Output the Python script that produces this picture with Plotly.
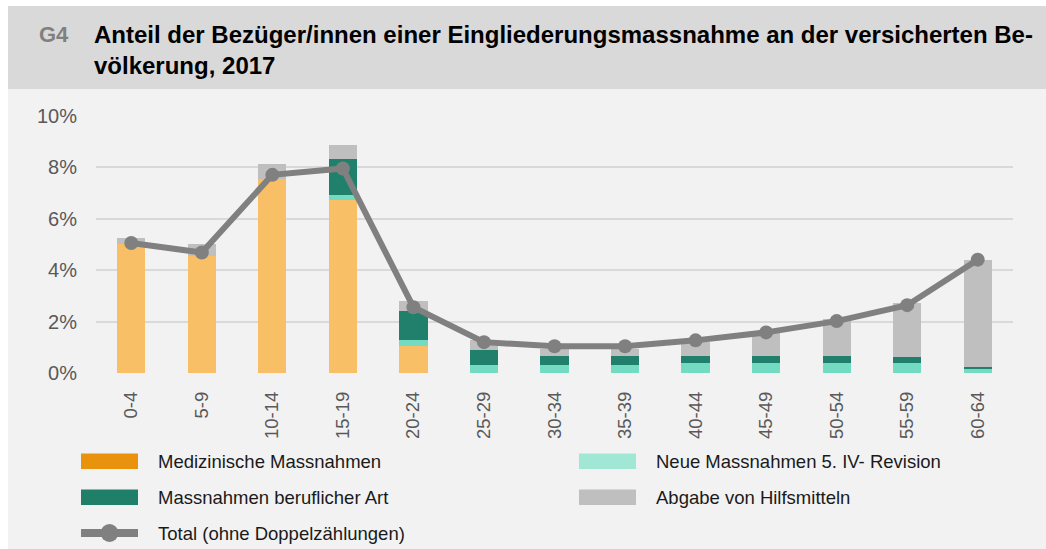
import plotly.graph_objects as go

categories = ["0-4", "5-9", "10-14", "15-19", "20-24", "25-29", "30-34",
              "35-39", "40-44", "45-49", "50-54", "55-59", "60-64"]
# stacked segment values (% of insured population)
medizinisch = [5.01, 4.57, 7.53, 6.75, 1.07, 0, 0, 0, 0, 0, 0, 0, 0]
neue_5iv = [0, 0, 0, 0.16, 0.22, 0.30, 0.30, 0.30, 0.39, 0.39, 0.39, 0.39, 0.18]
beruflich = [0, 0, 0, 1.43, 1.11, 0.60, 0.38, 0.38, 0.28, 0.28, 0.28, 0.22, 0.05]
hilfsmittel = [0.24, 0.44, 0.59, 0.54, 0.39, 0.39, 0.25, 0.25, 0.52, 0.90, 1.43, 2.13, 4.17]
total = [5.06, 4.69, 7.71, 7.96, 2.56, 1.20, 1.04, 1.04, 1.27, 1.58, 2.02, 2.64, 4.41]
ytick_vals = [0, 2, 4, 6, 8, 10]
ytick_text = ["0%", "2%", "4%", "6%", "8%", "10%"]

legend_labels = ["Medizinische Massnahmen", "Neue Massnahmen 5. IV- Revision",
                 "Massnahmen beruflicher Art", "Abgabe von Hilfsmitteln",
                 "Total (ohne Doppelzählungen)"]

# page offset of the figure (body margin) and figure size
OX, OY = 8, 6
W, H = 1046 - OX, 549 - OY
ML, MR, MT, MB = 96 - OX, 1046 - 1013, 116 - OY, 549 - 373
PW, PH = W - ML - MR, H - MT - MB

def px(x):  # page pixel x -> paper
    return (x - OX - ML) / PW

def py(y):  # page pixel y -> paper
    return (H - MB - (y - OY)) / PH

FONT = "Liberation Sans, Arial, sans-serif"

fig = go.Figure()
bar_specs = [
    (medizinisch, "#F8BF66"),
    (neue_5iv, "#72DBC1"),
    (beruflich, "#20806B"),
    (hilfsmittel, "#BFBFBF"),
]
for vals, col in bar_specs:
    fig.add_trace(go.Bar(x=categories, y=vals, marker=dict(color=col, line=dict(width=0)),
                         showlegend=False, hoverinfo="skip"))
fig.add_trace(go.Scatter(x=categories, y=total, mode="lines+markers",
                         line=dict(color="#808080", width=6),
                         marker=dict(color="#808080", size=14),
                         showlegend=False))

shapes = []
# title band
shapes.append(dict(type="rect", xref="paper", yref="paper", x0=px(OX), x1=px(1046), y0=py(OY), y1=py(89),
                   fillcolor="#D9D9D9", line=dict(width=0), layer="below"))

annotations = []
annotations.append(dict(text="<b>G4</b>", x=px(37), y=py(34), xref="paper", yref="paper",
                        xanchor="left", yanchor="middle", showarrow=False,
                        font=dict(family=FONT, size=22, color="#808080")))
annotations.append(dict(text="<b>Anteil der Bezüger/innen einer Eingliederungsmassnahme an der versicherten Be-</b>",
                        x=px(92), y=py(34), xref="paper", yref="paper",
                        xanchor="left", yanchor="middle", showarrow=False,
                        font=dict(family=FONT, size=24, color="#000000")))
annotations.append(dict(text="<b>völkerung, 2017</b>",
                        x=px(92), y=py(65), xref="paper", yref="paper",
                        xanchor="left", yanchor="middle", showarrow=False,
                        font=dict(family=FONT, size=24, color="#000000")))

# manual legend
legend_items = [
    (legend_labels[0], "#E8920E", 81, 461, "rect"),
    (legend_labels[2], "#1F7F69", 81, 497, "rect"),
    (legend_labels[4], "#808080", 81, 533, "line"),
    (legend_labels[1], "#A1E7D5", 579, 461, "rect"),
    (legend_labels[3], "#BFBFBF", 579, 497, "rect"),
]
for label, col, x0, yc, kind in legend_items:
    if kind == "rect":
        shapes.append(dict(type="rect", xref="paper", yref="paper", x0=px(x0), x1=px(x0 + 57),
                           y0=py(yc + 8), y1=py(yc - 7.5), fillcolor=col, line=dict(width=0)))
    else:
        shapes.append(dict(type="rect", xref="paper", yref="paper", x0=px(x0), x1=px(x0 + 57),
                           y0=py(yc + 4), y1=py(yc - 4), fillcolor=col, line=dict(width=0)))
        shapes.append(dict(type="circle", xref="paper", yref="paper", x0=px(x0 + 28.5 - 9), x1=px(x0 + 28.5 + 9),
                           y0=py(yc + 9), y1=py(yc - 9), fillcolor=col, line=dict(width=0)))
    annotations.append(dict(text=label, x=px(x0 + 75), y=py(yc), xref="paper", yref="paper",
                            xanchor="left", yanchor="middle", showarrow=False,
                            font=dict(family=FONT, size=18.5, color="#1A1A1A")))

fig.update_layout(
    width=W, height=H,
    margin=dict(l=ML, r=MR, t=MT, b=MB, pad=0),
    paper_bgcolor="#F2F2F2",
    plot_bgcolor="rgba(0,0,0,0)",
    barmode="stack",
    bargap=0.6,
    showlegend=False,
    shapes=shapes,
    annotations=annotations,
    font=dict(family=FONT, color="#595959"),
    xaxis=dict(type="category", range=[-0.5, len(categories) - 0.5], tickangle=-90,
               showgrid=False, zeroline=False, showline=False,
               ticks="", ticklabelstandoff=14, tickfont=dict(family=FONT, size=18.5, color="#595959")),
    yaxis=dict(range=[0, 10], tickvals=ytick_vals, ticktext=ytick_text, showgrid=True,
               gridcolor="#D9D9D9", gridwidth=2, zeroline=False, showline=False, ticks="",
               ticklabelstandoff=18, tickfont=dict(family=FONT, size=20, color="#595959")),
)

fig.write_html("out.html", post_script="document.body.style.margin='%dpx 0 0 %dpx';" % (OY, OX))
